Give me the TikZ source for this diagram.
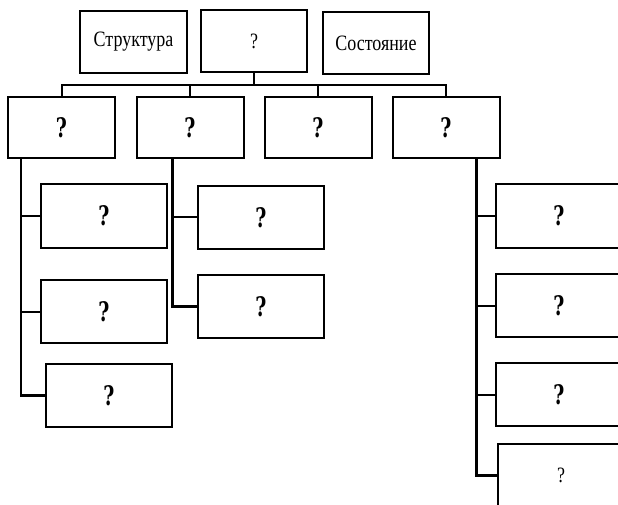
\documentclass[tikz,border=0pt]{standalone}
\usepackage{fontspec}
\setmainfont{Liberation Serif}
\newfontfamily\qfont{DejaVu Serif}
\usepackage{graphicx}
\newcommand{\reg}[1]{\scalebox{0.82}[1]{\fontsize{22}{22}\selectfont #1}}
\newcommand{\bq}{\scalebox{0.7}[1]{\fontsize{27}{27}\selectfont\qfont\bfseries ?}}
\begin{document}
\begin{tikzpicture}[x=1bp,y=-1bp,
  box/.style={draw=black, line width=2bp, fill=white, inner sep=0pt, anchor=center},
  top/.style={box, minimum width=106bp, minimum height=62bp},
  mid/.style={box, minimum width=107bp, minimum height=61bp},
  sub/.style={box, minimum width=126bp, minimum height=63bp},
  link/.style={draw=black, line width=2bp},
  trunk/.style={draw=black, line width=2.4bp}]
\useasboundingbox (0,0) rectangle (618,505);
\clip (0,0) rectangle (618,505);
% top row
\node[top, minimum width=107bp] (s) at (133.5,42) {\reg{Структура}};
\node[top] (q) at (254,41) {\reg{?}};
\node[top] (c) at (376,43) {\reg{Состояние}};
% second row
\node[mid] (a) at (61.5,127.5) {\bq};
\node[mid] (b) at (190,127.5) {\bq};
\node[mid] (m) at (318,127.5) {\bq};
\node[mid] (d) at (446,127.5) {\bq};
% sub boxes
\node[sub] (a1) at (104,216) {\bq};
\node[sub] (a2) at (104,311.5) {\bq};
\node[sub] (a3) at (109,395.5) {\bq};
\node[sub] (b1) at (261,217.5) {\bq};
\node[sub] (b2) at (261,306.5) {\bq};
\node[sub] (d1) at (559,216) {\bq};
\node[sub] (d2) at (559,305.5) {\bq};
\node[sub] (d3) at (559,394.5) {\bq};
\node[sub] (d4) at (561,475.5) {\reg{?}};
% top connectors
\coordinate (j) at ([yshift=-12bp]q.south);
\draw[link] (q.south) -- (j);
\draw[link] (a.north) -- (a.north |- j) -- (d.north |- j) -- (d.north);
\draw[link] (b.north) -- (b.north |- j);
\draw[link] (m.north) -- (m.north |- j);
% trunks
\coordinate (ta) at ([xshift=14bp]a.south west);
\coordinate (tb) at ([xshift=37bp]b.south west);
\coordinate (td) at ([xshift=85bp]d.south west);
\draw[trunk] (ta) |- (a3.west);
\draw[link] (ta |- a1.west) -- (a1.west);
\draw[link] (ta |- a2.west) -- (a2.west);
\draw[trunk] (tb) |- (b2.west);
\draw[link] (tb |- b1.west) -- (b1.west);
\draw[trunk] (td) |- (d4.west);
\draw[link] (td |- d1.west) -- (d1.west);
\draw[link] (td |- d2.west) -- (d2.west);
\draw[link] (td |- d3.west) -- (d3.west);
\end{tikzpicture}
\end{document}
